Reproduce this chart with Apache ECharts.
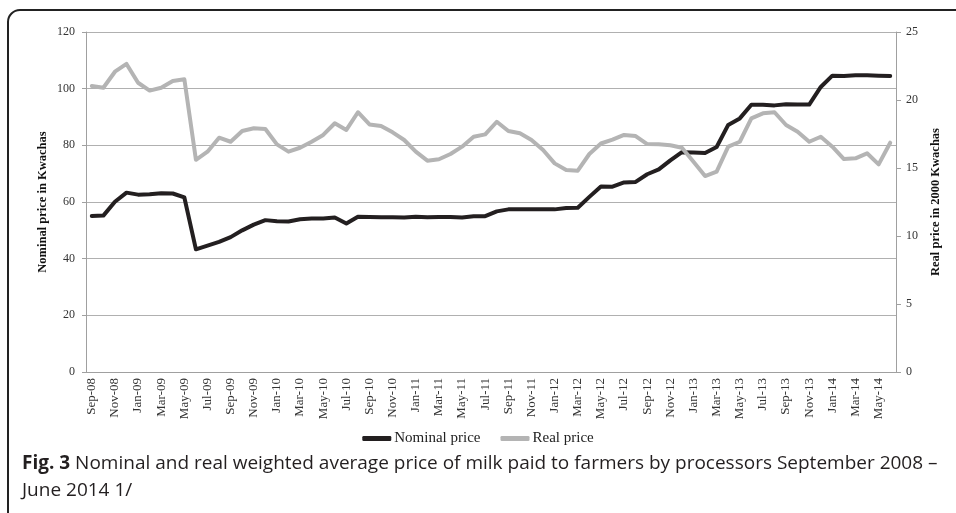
<!DOCTYPE html>
<html><head><meta charset="utf-8">
<script src="https://cdn.jsdelivr.net/npm/echarts@6/dist/echarts.min.js"></script>
<style>html,body{margin:0;padding:0;background:#fff}#c{width:956px;height:513px}</style>
</head><body><div id="c"></div>
<script>
const categories = ['Sep-08','Oct-08','Nov-08','Dec-08','Jan-09','Feb-09','Mar-09','Apr-09','May-09','Jun-09','Jul-09','Aug-09','Sep-09','Oct-09','Nov-09','Dec-09',
'Jan-10','Feb-10','Mar-10','Apr-10','May-10','Jun-10','Jul-10','Aug-10','Sep-10','Oct-10','Nov-10','Dec-10',
'Jan-11','Feb-11','Mar-11','Apr-11','May-11','Jun-11','Jul-11','Aug-11','Sep-11','Oct-11','Nov-11','Dec-11',
'Jan-12','Feb-12','Mar-12','Apr-12','May-12','Jun-12','Jul-12','Aug-12','Sep-12','Oct-12','Nov-12','Dec-12',
'Jan-13','Feb-13','Mar-13','Apr-13','May-13','Jun-13','Jul-13','Aug-13','Sep-13','Oct-13','Nov-13','Dec-13',
'Jan-14','Feb-14','Mar-14','Apr-14','May-14','Jun-14'];
const nominalPrice = [55.1,55.2,60.1,63.3,62.6,62.7,63.1,63.0,61.6,43.3,44.6,45.9,47.6,50.0,52.0,53.6,
53.2,53.1,53.9,54.2,54.2,54.5,52.4,54.8,54.7,54.6,54.6,54.5,
54.8,54.6,54.7,54.7,54.5,55.0,55.0,56.7,57.4,57.4,57.4,57.4,
57.4,57.9,58.0,61.8,65.5,65.4,66.9,67.1,69.8,71.5,74.7,77.6,
77.5,77.3,79.4,87.2,89.5,94.3,94.3,94.1,94.5,94.4,94.4,100.6,
104.6,104.5,104.7,104.7,104.6,104.5];
const realPrice = [21.03,20.9,22.08,22.65,21.27,20.69,20.9,21.4,21.52,15.6,16.2,17.23,16.93,17.72,17.92,17.87,
16.74,16.2,16.49,16.93,17.43,18.29,17.8,19.1,18.2,18.09,17.62,17.06,
16.2,15.54,15.64,16.03,16.57,17.3,17.47,18.4,17.72,17.55,17.06,16.32,
15.34,14.85,14.8,16.03,16.8,17.08,17.43,17.35,16.76,16.74,16.67,16.49,
15.46,14.41,14.73,16.57,16.93,18.65,19.02,19.1,18.16,17.67,16.93,17.3,
16.57,15.66,15.71,16.08,15.27,16.86];
const seriesNames = ['Nominal price','Real price'];
const leftAxisName = 'Nominal price in Kwachas';
const rightAxisName = 'Real price in 2000 Kwachas';
const captionBold = 'Fig. 3';
const captionLine1 = ' Nominal and real weighted average price of milk paid to farmers by processors September 2008 –';
const captionLine2 = 'June 2014 1/';

const serif = '"Liberation Serif","DejaVu Serif",serif';
const sans = '"Open Sans","Liberation Sans",Arial,sans-serif';
const chart = echarts.init(document.getElementById('c'), null, {renderer:'canvas'});
chart.setOption({
  animation:false,
  backgroundColor:'#fff',
  grid:{left:86,right:60,top:32,bottom:141,containLabel:false},
  legend:{
    data:seriesNames, top:426, left:'center', itemWidth:29, itemHeight:5, itemGap:20,
    icon:'roundRect',
    textStyle:{fontFamily:serif,fontSize:15,color:'#222',padding:[0,0,0,-2]}
  },
  xAxis:{
    type:'category', data:categories, boundaryGap:true,
    axisLine:{lineStyle:{color:'#a0a0a0',width:1}},
    axisTick:{interval:1,length:5,lineStyle:{color:'#a0a0a0'}},
    axisLabel:{interval:1,rotate:90,fontFamily:serif,fontSize:13,color:'#333',margin:6}
  },
  yAxis:[
    {type:'value',min:0,max:120,interval:20,position:'left',
     name:leftAxisName,nameLocation:'middle',nameGap:37,nameMoveOverlap:false,
     nameTextStyle:{fontFamily:serif,fontSize:12.5,fontWeight:'bold',color:'#111'},
     axisLine:{show:true,lineStyle:{color:'#a0a0a0'}},
     axisTick:{show:true,length:4,lineStyle:{color:'#a0a0a0'}},
     axisLabel:{fontFamily:serif,fontSize:12,color:'#333',margin:11},
     splitLine:{show:true,lineStyle:{color:'#b0b0b0',width:1}}},
    {type:'value',min:0,max:25,interval:5,position:'right',
     name:rightAxisName,nameLocation:'middle',nameGap:32,nameRotate:90,
     nameTextStyle:{fontFamily:serif,fontSize:12.5,fontWeight:'bold',color:'#111'},
     axisLine:{show:true,lineStyle:{color:'#a0a0a0'}},
     axisTick:{show:true,length:5,lineStyle:{color:'#a0a0a0'}},
     axisLabel:{fontFamily:serif,fontSize:12,color:'#333',margin:10},
     splitLine:{show:false}}
  ],
  series:[
    {name:seriesNames[0],type:'line',data:nominalPrice,yAxisIndex:0,showSymbol:false,symbol:'none',
     lineStyle:{color:'#231f20',width:4,join:'round',cap:'round'},itemStyle:{color:'#231f20'}},
    {name:seriesNames[1],type:'line',data:realPrice,yAxisIndex:1,showSymbol:false,symbol:'none',
     lineStyle:{color:'#b4b4b4',width:4,join:'round',cap:'round'},itemStyle:{color:'#b4b4b4'}}
  ],
  graphic:[
    {type:'rect',shape:{x:8,y:10,width:1000,height:600,r:12},style:{fill:'none',stroke:'#222',lineWidth:2},silent:true},
    {type:'text',left:22,top:454,style:{
      rich:{b:{fontFamily:sans,fontSize:19,fontWeight:'bold',fill:'#231f20'},n:{fontFamily:sans,fontSize:19,fill:'#231f20'}},
      text:'{b|'+captionBold+'}{n|'+captionLine1+'}'}},
    {type:'text',left:22,top:481,style:{text:captionLine2,fontFamily:sans,fontSize:19,fill:'#231f20'}}
  ]
});
</script></body></html>
